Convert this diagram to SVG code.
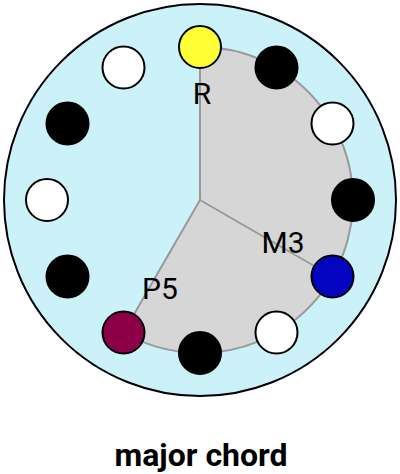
<svg xmlns="http://www.w3.org/2000/svg" width="400" height="474" viewBox="0 0 400 474">
<style>
.note{stroke:#000;stroke-width:2}
.w{fill:#fff}.b{fill:#000}
.lbl{font-family:Roboto,"Liberation Sans",sans-serif;font-size:30px;fill:#000;text-anchor:middle}
.title{font-family:Roboto,"Liberation Sans",sans-serif;font-size:32px;font-weight:bold;fill:#000;text-anchor:middle}
.edge{stroke:#999;stroke-width:2;fill:none}
</style>
<g id="dial"><circle cx="200" cy="200" r="196" fill="#cbf1f9" stroke="#000" stroke-width="2"/></g>
<g id="chord-area"><path d="M200,200 L200,47 A153,153 0 1,1 123.5,332.5 Z" fill="#d6d6d6" stroke="#999" stroke-width="2"/></g>
<g id="connectors"><line class="edge" x1="200" y1="200" x2="332.5" y2="276.5"/></g>
<g id="n0"><circle class="note" cx="200" cy="47" r="21" fill="#ffff33"/></g>
<g id="n1"><circle class="note b" cx="276.5" cy="67.5" r="21"/></g>
<g id="n2"><circle class="note w" cx="332.5" cy="123.5" r="21"/></g>
<g id="n3"><circle class="note b" cx="353" cy="200" r="21"/></g>
<g id="n4"><circle class="note" cx="332.5" cy="276.5" r="21" fill="#0303c0"/></g>
<g id="n5"><circle class="note w" cx="276.5" cy="332.5" r="21"/></g>
<g id="n6"><circle class="note b" cx="200" cy="353" r="21"/></g>
<g id="n7"><circle class="note" cx="123.5" cy="332.5" r="21" fill="#8b0046"/></g>
<g id="n8"><circle class="note b" cx="67.5" cy="276.5" r="21"/></g>
<g id="n9"><circle class="note w" cx="47" cy="200" r="21"/></g>
<g id="n10"><circle class="note b" cx="67.5" cy="123.5" r="21"/></g>
<g id="n11"><circle class="note w" cx="123.5" cy="67.5" r="21"/></g>
<g id="labels">
<text class="lbl" x="202" y="104">R</text>
<text class="lbl" x="283" y="252.5">M3</text>
<text class="lbl" x="160" y="299">P5</text>
</g>
<text class="title" x="201" y="466">major chord</text>
</svg>
